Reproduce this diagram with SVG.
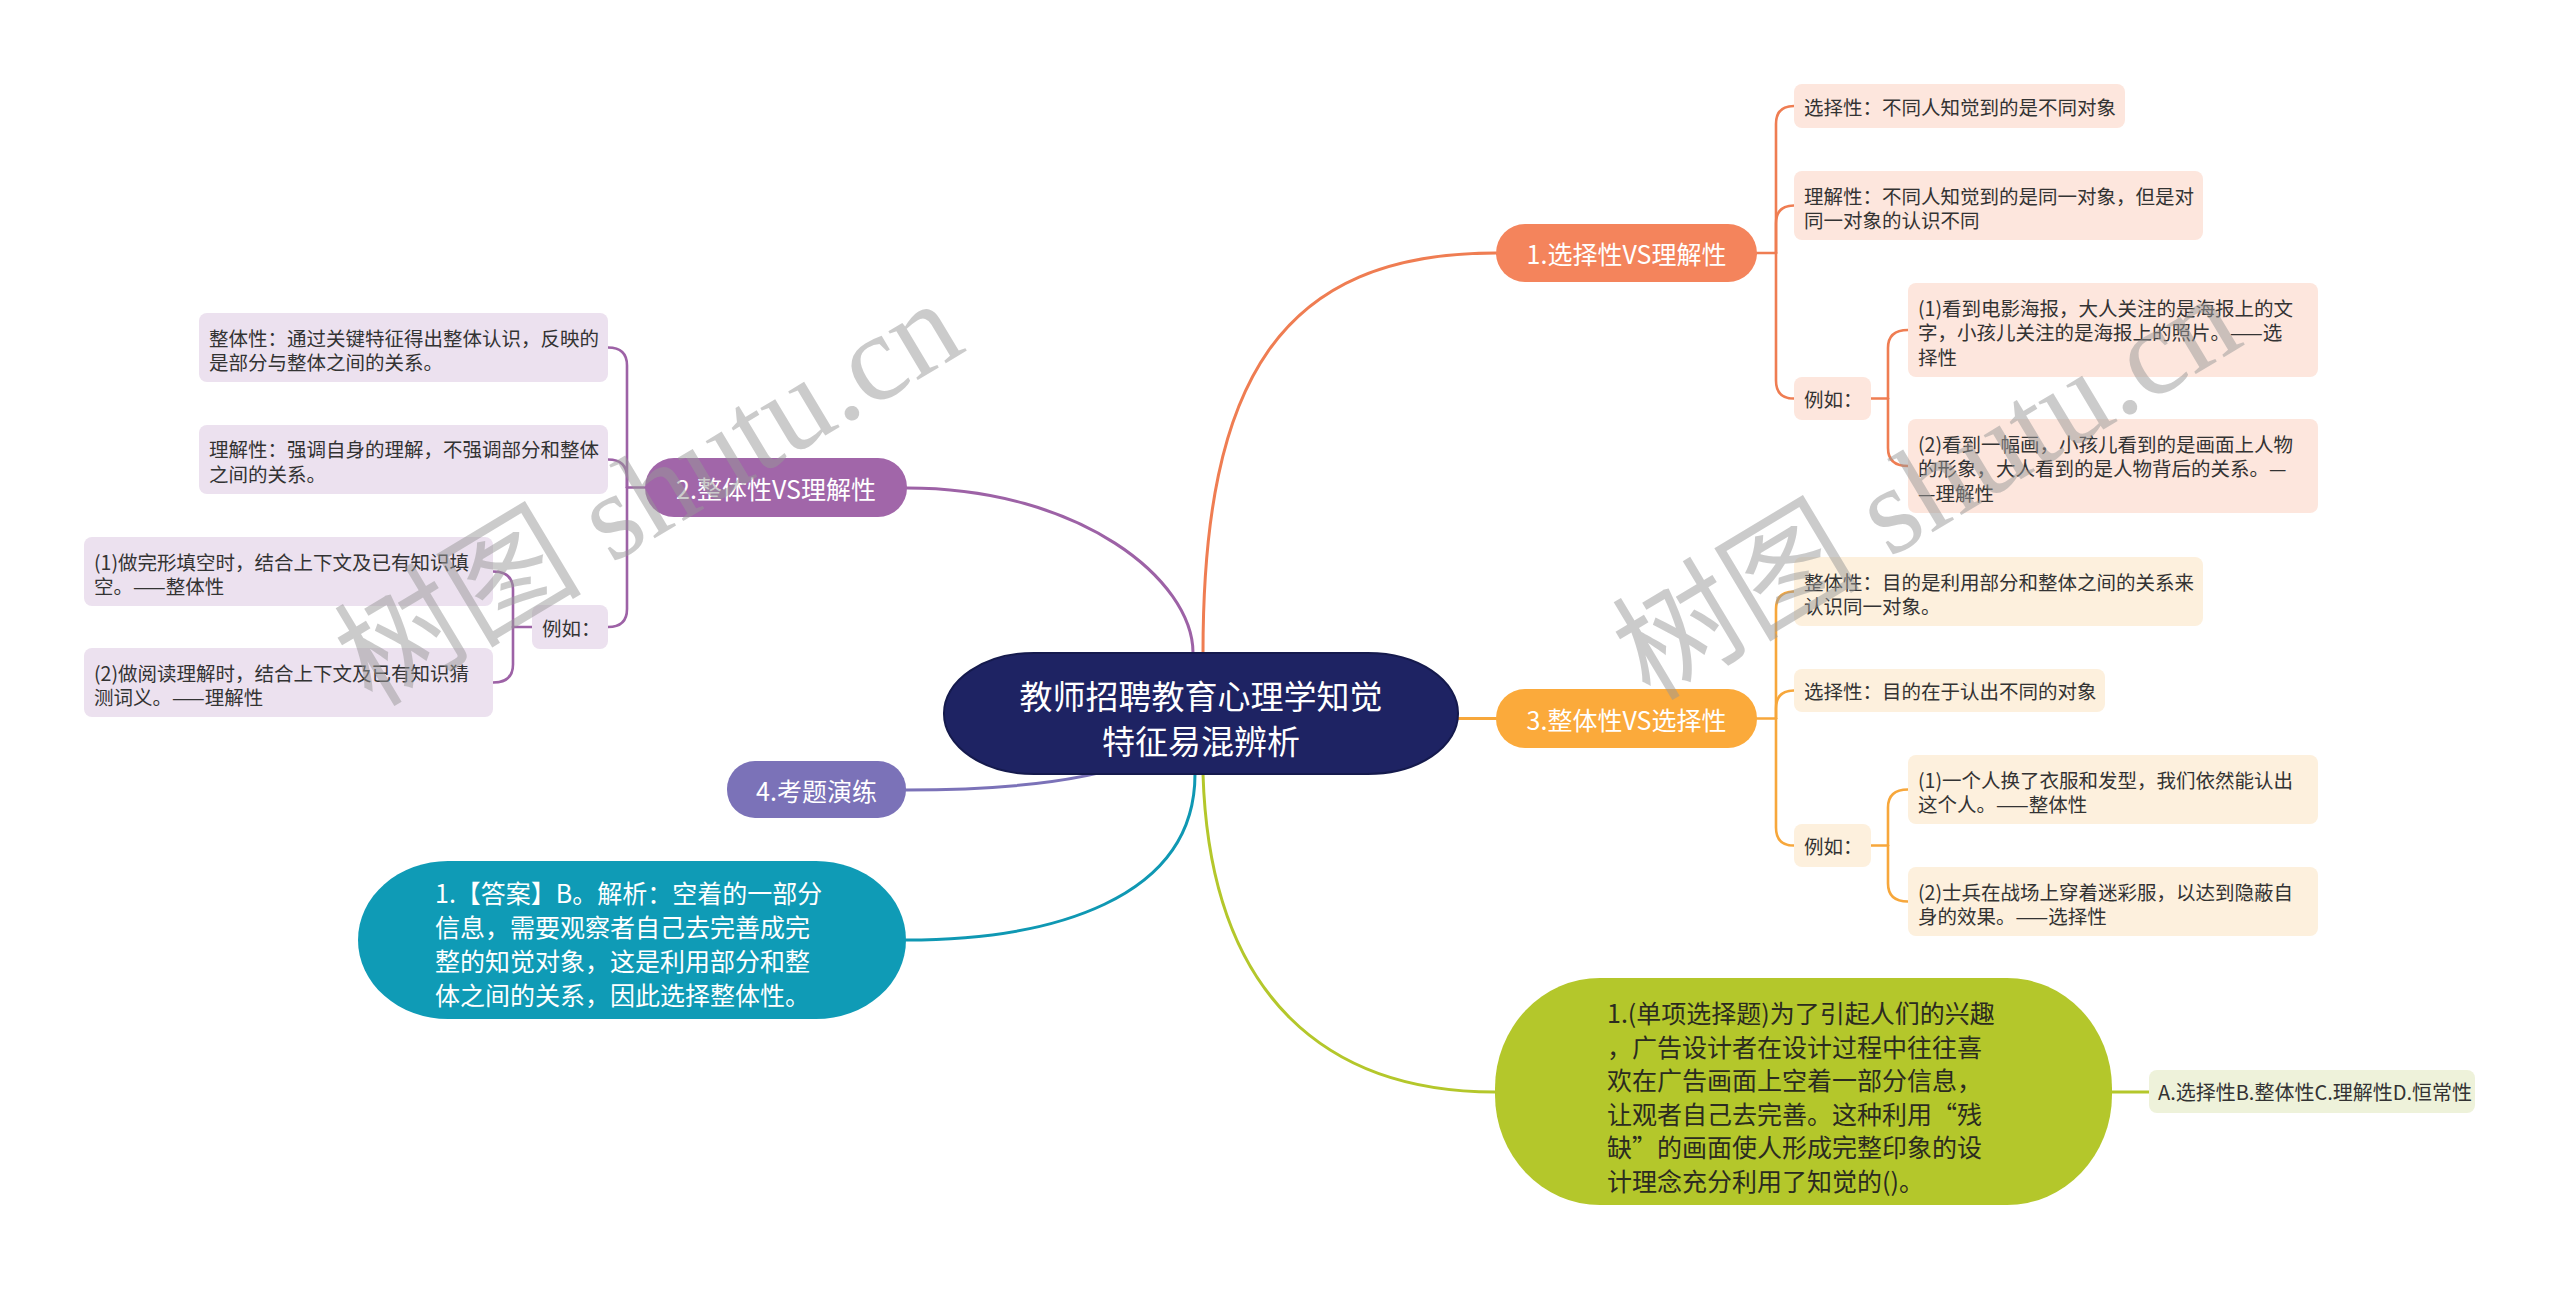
<svg xmlns="http://www.w3.org/2000/svg" width="2560" height="1289" viewBox="0 0 2560 1289">
<style>
text{font-family:"Noto Sans CJK SC","Liberation Sans",sans-serif;dominant-baseline:central}
.c{fill:none;stroke-width:3;stroke-linecap:round}
.s{fill:none;stroke-width:2.6;stroke-linecap:round}
.wt{fill:#fff;font-size:25px;text-anchor:middle}
.sub{font-size:19.5px;fill:#333}
.big{font-size:25px}
.wm{font-family:"Liberation Serif","Noto Sans CJK SC",serif;font-size:124px;fill:#999;opacity:0.5;dominant-baseline:alphabetic}
</style>
<rect width="2560" height="1289" fill="#fff"/>
<g id="connectors">
<path class="c" stroke="#ef7d52" d="M1203,653 C1203,380 1280,253 1496,253"/>
<path class="c" stroke="#9d62a6" d="M1193,653 C1193,580 1080,488 907,488"/>
<path class="c" stroke="#f7a73b" d="M1458,718.5 H1496"/>
<path class="c" stroke="#7b72b8" d="M1201,714 Q1160,790 906,790"/>
<path class="c" stroke="#0f98b3" d="M1195,774 C1195,900 1050,940 906,940"/>
<path class="c" stroke="#b4c72b" d="M1203,774 C1210,1000 1330,1092 1495,1092"/>
<path class="c" stroke="#b4c72b" d="M2112,1092 H2149"/>
<g stroke="#ef7d52">
<path class="s" d="M1757,253 H1776"/>
<path class="s" d="M1776,253 V124 Q1776,106 1794,106"/>
<path class="s" d="M1776,253 V223.5 Q1776,205.5 1794,205.5"/>
<path class="s" d="M1776,253 V380.5 Q1776,398.5 1794,398.5"/>
<path class="s" d="M1871,398.5 H1888"/>
<path class="s" d="M1888,398.5 V348 Q1888,330 1908,330"/>
<path class="s" d="M1888,398.5 V448 Q1888,466 1908,466"/>
</g>
<g stroke="#f7a73b">
<path class="s" d="M1757,718.5 H1776"/>
<path class="s" d="M1776,718.5 V609.5 Q1776,591.5 1794,591.5"/>
<path class="s" d="M1776,718.5 V708.5 Q1776,690.5 1794,690.5"/>
<path class="s" d="M1776,718.5 V827.5 Q1776,845.5 1794,845.5"/>
<path class="s" d="M1871,845.5 H1888"/>
<path class="s" d="M1888,845.5 V807.5 Q1888,789.5 1908,789.5"/>
<path class="s" d="M1888,845.5 V883.5 Q1888,901.5 1908,901.5"/>
</g>
<g stroke="#9d62a6">
<path class="s" d="M645,487.5 H627"/>
<path class="s" d="M627,487.5 V365.5 Q627,347.5 608,347.5"/>
<path class="s" d="M627,487.5 V477.5 Q627,459.5 608,459.5"/>
<path class="s" d="M627,487.5 V609 Q627,627 608,627"/>
<path class="s" d="M532,627 H513"/>
<path class="s" d="M513,627 V589.5 Q513,571.5 493,571.5"/>
<path class="s" d="M513,627 V664.5 Q513,682.5 493,682.5"/>
</g>
</g>
<g id="root">
<rect x="944" y="653" width="514" height="121" rx="90" ry="60" fill="#1e2363" stroke="#151a4d" stroke-width="2"/>
<text x="1201" y="695" fill="#fff" font-size="33" text-anchor="middle">教师招聘教育心理学知觉</text>
<text x="1201" y="740" fill="#fff" font-size="33" text-anchor="middle">特征易混辨析</text>
</g>
<g id="b1">
<rect x="1496" y="224" width="261" height="58" rx="29" fill="#f4845c"/>
<text class="wt" x="1626.5" y="253">1.选择性VS理解性</text>
</g>
<g id="b1a">
<rect x="1794" y="84" width="331" height="44" rx="8" fill="#fde6dd"/>
<text class="sub" x="1804" y="106">选择性：不同人知觉到的是不同对象</text>
</g>
<g id="b1b">
<rect x="1794" y="171" width="409" height="69" rx="8" fill="#fde6dd"/>
<text class="sub" x="1804" y="195">理解性：不同人知觉到的是同一对象，但是对</text>
<text class="sub" x="1804" y="219">同一对象的认识不同</text>
</g>
<g id="b1c">
<rect x="1794" y="377" width="77" height="43" rx="8" fill="#fde6dd"/>
<text class="sub" x="1804" y="398.5">例如：</text>
</g>
<g id="b1c1">
<rect x="1908" y="283" width="410" height="94" rx="8" fill="#fde6dd"/>
<text class="sub" x="1918" y="307">(1)看到电影海报，大人关注的是海报上的文</text>
<text class="sub" x="1918" y="331.5">字，小孩儿关注的是海报上的照片。——选</text>
<text class="sub" x="1918" y="356">择性</text>
</g>
<g id="b1c2">
<rect x="1908" y="419" width="410" height="94" rx="8" fill="#fde6dd"/>
<text class="sub" x="1918" y="443">(2)看到一幅画，小孩儿看到的是画面上人物</text>
<text class="sub" x="1918" y="467.5">的形象，大人看到的是人物背后的关系。—</text>
<text class="sub" x="1918" y="492">—理解性</text>
</g>
<g id="b3">
<rect x="1496" y="689" width="261" height="59" rx="29" fill="#fbaa3b"/>
<text class="wt" x="1626.5" y="718.5">3.整体性VS选择性</text>
</g>
<g id="b3a">
<rect x="1794" y="557" width="409" height="69" rx="8" fill="#fdf0dd"/>
<text class="sub" x="1804" y="581">整体性：目的是利用部分和整体之间的关系来</text>
<text class="sub" x="1804" y="605.5">认识同一对象。</text>
</g>
<g id="b3b">
<rect x="1794" y="669" width="311" height="43" rx="8" fill="#fdf0dd"/>
<text class="sub" x="1804" y="690.5">选择性：目的在于认出不同的对象</text>
</g>
<g id="b3c">
<rect x="1794" y="824" width="77" height="43" rx="8" fill="#fdf0dd"/>
<text class="sub" x="1804" y="845.5">例如：</text>
</g>
<g id="b3c1">
<rect x="1908" y="755" width="410" height="69" rx="8" fill="#fdf0dd"/>
<text class="sub" x="1918" y="779">(1)一个人换了衣服和发型，我们依然能认出</text>
<text class="sub" x="1918" y="803.5">这个人。——整体性</text>
</g>
<g id="b3c2">
<rect x="1908" y="867" width="410" height="69" rx="8" fill="#fdf0dd"/>
<text class="sub" x="1918" y="891">(2)士兵在战场上穿着迷彩服，以达到隐蔽自</text>
<text class="sub" x="1918" y="915.5">身的效果。——选择性</text>
</g>
<g id="b2">
<rect x="645" y="458" width="262" height="59" rx="29" fill="#a166a9"/>
<text class="wt" x="776" y="487.5">2.整体性VS理解性</text>
</g>
<g id="b2a">
<rect x="199" y="313" width="409" height="69" rx="8" fill="#ece1ef"/>
<text class="sub" x="209" y="337">整体性：通过关键特征得出整体认识，反映的</text>
<text class="sub" x="209" y="361">是部分与整体之间的关系。</text>
</g>
<g id="b2b">
<rect x="199" y="425" width="409" height="69" rx="8" fill="#ece1ef"/>
<text class="sub" x="209" y="448.5">理解性：强调自身的理解，不强调部分和整体</text>
<text class="sub" x="209" y="473">之间的关系。</text>
</g>
<g id="b2c">
<rect x="532" y="605" width="76" height="44" rx="8" fill="#ece1ef"/>
<text class="sub" x="542" y="627">例如：</text>
</g>
<g id="b2c1">
<rect x="84" y="537" width="409" height="69" rx="8" fill="#ece1ef"/>
<text class="sub" x="94" y="561">(1)做完形填空时，结合上下文及已有知识填</text>
<text class="sub" x="94" y="585.5">空。——整体性</text>
</g>
<g id="b2c2">
<rect x="84" y="648" width="409" height="69" rx="8" fill="#ece1ef"/>
<text class="sub" x="94" y="672">(2)做阅读理解时，结合上下文及已有知识猜</text>
<text class="sub" x="94" y="696.5">测词义。——理解性</text>
</g>
<g id="b4">
<rect x="727" y="761" width="179" height="57" rx="28" fill="#7b72b8"/>
<text class="wt" x="816.5" y="789.5">4.考题演练</text>
</g>
<g id="b5">
<rect x="358" y="861" width="548" height="158" rx="90" ry="79" fill="#0f9bb6"/>
<text class="big" fill="#fff" x="435" y="892">1.【答案】B。解析：空着的一部分</text>
<text class="big" fill="#fff" x="435" y="926">信息，需要观察者自己去完善成完</text>
<text class="big" fill="#fff" x="435" y="960">整的知觉对象，这是利用部分和整</text>
<text class="big" fill="#fff" x="435" y="994">体之间的关系，因此选择整体性。</text>
</g>
<g id="b6">
<rect x="1495" y="978" width="617" height="227" rx="105" ry="110" fill="#b4c72b"/>
<text class="big" fill="#2b2b20" x="1607" y="1012">1.(单项选择题)为了引起人们的兴趣</text>
<text class="big" fill="#2b2b20" x="1607" y="1045.6">，广告设计者在设计过程中往往喜</text>
<text class="big" fill="#2b2b20" x="1607" y="1079.2">欢在广告画面上空着一部分信息，</text>
<text class="big" fill="#2b2b20" x="1607" y="1112.8">让观者自己去完善。这种利用“残</text>
<text class="big" fill="#2b2b20" x="1607" y="1146.4">缺”的画面使人形成完整印象的设</text>
<text class="big" fill="#2b2b20" x="1607" y="1180">计理念充分利用了知觉的()。</text>
</g>
<g id="b6a">
<rect x="2149" y="1070" width="326" height="43" rx="8" fill="#eef2da"/>
<text x="2158" y="1091.5" font-size="20" fill="#333">A.选择性B.整体性C.理解性D.恒常性</text>
</g>
<g id="watermark">
<text class="wm" transform="translate(372,708) rotate(-31)">树图 shutu.cn</text>
<text class="wm" transform="translate(1650,702) rotate(-31)">树图 shutu.cn</text>
</g>
</svg>
